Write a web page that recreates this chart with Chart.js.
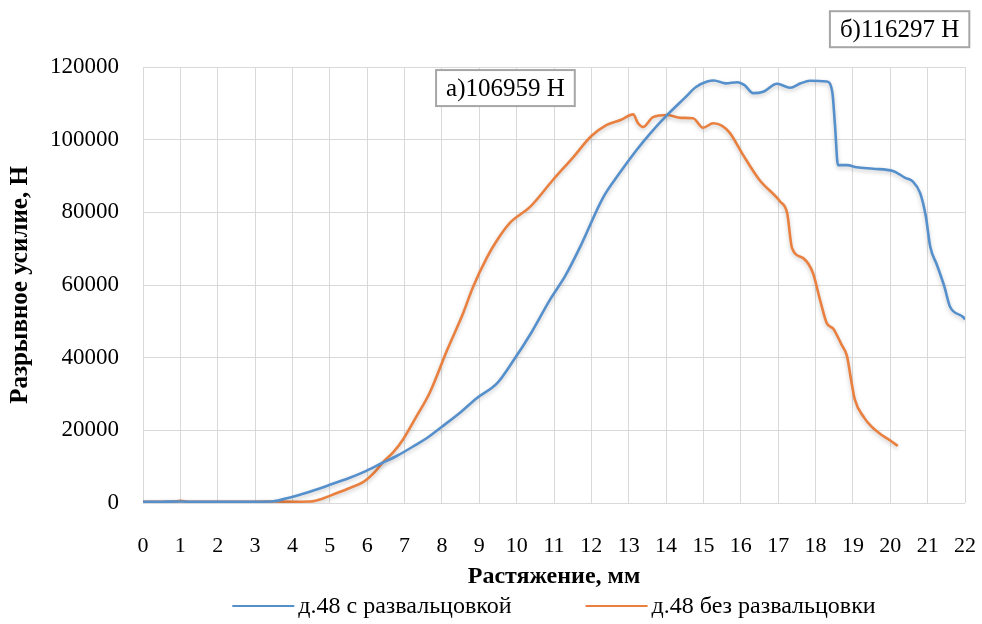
<!DOCTYPE html>
<html>
<head>
<meta charset="utf-8">
<script src="https://cdn.jsdelivr.net/npm/chart.js@4.4.0/dist/chart.umd.min.js"></script>
<style>
  html, body { margin: 0; padding: 0; background: #fff; }
  #wrap { width: 982px; height: 624px; position: relative; }
</style>
</head>
<body>
<div id="wrap"><canvas id="chart"></canvas></div>
<script>
// Растяжение, мм / Разрывное усилие, Н
const seriesNames = ['д.48 с развальцовкой', 'д.48 без развальцовки'];

const blueX = [0, 0.5, 1, 1.5, 2, 2.5, 3, 3.5, 3.85, 4.2, 4.6, 5.0, 5.5, 5.9, 6.4, 6.8, 7.3, 7.6, 8.0, 8.5,
  8.94, 9.48, 9.9, 10.4, 10.89, 11.3, 11.7, 12.31, 12.77, 13.2, 13.6, 14.03, 14.5, 14.8, 15.1, 15.28, 15.6,
  15.9, 16.1, 16.33, 16.6, 16.97, 17.32, 17.6, 17.85, 18.3, 18.45, 18.52, 18.6, 18.84, 19.1, 19.54, 20.07,
  20.4, 20.6, 20.8, 20.95, 21.07, 21.25, 21.45, 21.6, 21.95, 22];
const blueY = [300, 350, 400, 300, 300, 300, 350, 500, 1300, 2300, 3600, 5000, 6800, 8500, 11000, 13000, 16000,
  17900, 21000, 25000, 28900, 33000, 39000, 47000, 55900, 62500, 70500, 84000, 91000, 97000, 102000, 106800,
  111500, 114500, 116000, 116297, 115500, 115800, 115000, 112800, 113200, 115400, 114300, 115500, 116200,
  116000, 113000, 104000, 93000, 93000, 92400, 92000, 91400, 89500, 88500, 85300, 79000, 70500, 65500,
  59500, 54000, 51200, 50500];

const orangeX = [0, 0.8, 1.0, 1.2, 2, 3, 3.5, 4.0, 4.47, 4.8, 5.19, 5.5, 5.9, 6.2, 6.43, 6.7, 6.96, 7.3, 7.68,
  8.14, 8.57, 8.83, 9.21, 9.48, 9.82, 10.36, 10.97, 11.5, 12.0, 12.4, 12.8, 13.12, 13.25, 13.38, 13.65, 14.03,
  14.4, 14.72, 14.99, 15.26, 15.5, 15.71, 16.06, 16.5, 17.05, 17.24, 17.37, 17.67, 17.93, 18.12, 18.3, 18.47,
  18.7, 18.84, 18.95, 19.05, 19.3, 19.5, 19.8, 20.0, 20.2];
const orangeY = [300, 400, 600, 350, 300, 350, 400, 350, 400, 1200, 2750, 4000, 5800, 8500, 11300, 14000, 17500,
  23500, 30500, 42100, 52300, 59400, 67700, 72400, 77100, 81500, 88900, 95000, 101000, 104000, 105500, 106959,
  104500, 103500, 106200, 106800, 106000, 105900, 103300, 104500, 103800, 101800, 95800, 88900, 83000, 79800,
  70200, 67400, 63300, 55900, 49500, 48000, 43500, 40500, 34000, 28500, 23500, 21000, 18500, 17200, 15700];

const xTicks = [0, 22, 1];          // min, max, step
const yTicks = [0, 120000, 20000];  // min, max, step

const colors = ['#5590cc', '#e9803f'];
const serif = '"Liberation Serif", "Times New Roman", serif';

function toPoints(xs, ys) {
  return xs.map((x, i) => ({ x: x, y: ys[i] }));
}

// boxed peak labels
const peakLabels = [
  { text: 'а)' + Math.max(...orangeY) + ' Н', x: 9.70, y: 114200 },
  { text: 'б)' + Math.max(...blueY) + ' Н', x: 20.25, y: 130400 }
];

const peakLabelPlugin = {
  id: 'peakLabels',
  afterDraw(chart) {
    const ctx = chart.ctx;
    const sx = chart.scales.x, sy = chart.scales.y;
    ctx.save();
    ctx.font = '25px ' + serif;
    ctx.textAlign = 'center';
    ctx.textBaseline = 'middle';
    peakLabels.forEach(l => {
      const cx = sx.getPixelForValue(l.x);
      const cy = sy.getPixelForValue(l.y);
      const w = ctx.measureText(l.text).width + 20;
      const h = 36;
      ctx.fillStyle = '#fff';
      ctx.fillRect(cx - w / 2, cy - h / 2, w, h);
      ctx.strokeStyle = '#a6a6a6';
      ctx.lineWidth = 2;
      ctx.strokeRect(cx - w / 2, cy - h / 2, w, h);
      ctx.fillStyle = '#000';
      ctx.fillText(l.text, cx, cy + 1);
    });
    ctx.restore();
  }
};

// legend under the axis title
const bottomLegendPlugin = {
  id: 'bottomLegend',
  afterDraw(chart) {
    const ctx = chart.ctx;
    const area = chart.chartArea;
    const lineLen = 62, gap = 4, between = 74;
    ctx.save();
    ctx.font = '24px ' + serif;
    ctx.textBaseline = 'middle';
    const widths = chart.data.datasets.map(d => ctx.measureText(d.label).width);
    const total = widths.reduce((a, w) => a + lineLen + gap + w, 0) + between * (widths.length - 1);
    let x = (area.left + area.right) / 2 - total / 2;
    const y = 606;
    chart.data.datasets.forEach((d, i) => {
      ctx.strokeStyle = d.borderColor;
      ctx.lineWidth = 2;
      ctx.beginPath();
      ctx.moveTo(x, y);
      ctx.lineTo(x + lineLen, y);
      ctx.stroke();
      ctx.fillStyle = '#000';
      ctx.fillText(d.label, x + lineLen + gap, y + 1);
      x += lineLen + gap + widths[i] + between;
    });
    ctx.restore();
  }
};

// soft shadow under the curves
const lineShadowPlugin = {
  id: 'lineShadow',
  beforeDatasetsDraw(chart) {
    const ctx = chart.ctx;
    ctx.save();
    ctx.shadowColor = 'rgba(0,0,0,0.22)';
    ctx.shadowBlur = 4;
    ctx.shadowOffsetY = 2;
  },
  afterDatasetsDraw(chart) {
    chart.ctx.restore();
  }
};

const data = {
  datasets: [{
    label: seriesNames[0],
    data: toPoints(blueX, blueY),
    borderColor: colors[0],
    backgroundColor: colors[0]
  }, {
    label: seriesNames[1],
    data: toPoints(orangeX, orangeY),
    borderColor: colors[1],
    backgroundColor: colors[1]
  }]
};

const config = {
  type: 'scatter',
  data,
  options: {
    responsive: true,
    maintainAspectRatio: false,
    animation: false,
    showLine: true,
    elements: {
      point: { radius: 0, hoverRadius: 0 },
      line: { borderWidth: 2.6, cubicInterpolationMode: 'monotone' }
    },
    layout: { padding: { left: 0, right: 17, top: 67, bottom: 33 } },
    scales: {
      x: {
        type: 'linear',
        min: xTicks[0],
        max: xTicks[1],
        afterFit(scale) {
          scale.height = 88;
          scale.paddingLeft = 0;
          scale.paddingRight = 0;
        },
        ticks: {
          stepSize: xTicks[2],
          color: '#000',
          padding: 30,
          maxRotation: 0,
          autoSkip: false,
          font: { family: serif, size: 22 }
        },
        grid: { color: '#d9d9d9', lineWidth: 1, drawTicks: false },
        border: { display: false },
        title: {
          display: true,
          text: 'Растяжение, мм',
          color: '#000',
          padding: { top: 0, bottom: 0 },
          font: { family: serif, size: 24, weight: 'bold' }
        }
      },
      y: {
        min: yTicks[0],
        max: yTicks[1],
        afterFit(scale) { scale.width = 143; },
        ticks: {
          stepSize: yTicks[2],
          color: '#000',
          padding: 24,
          font: { family: serif, size: 23 },
          callback: v => String(v)
        },
        grid: { color: '#d9d9d9', lineWidth: 1, drawTicks: false },
        border: { display: false },
        title: {
          display: true,
          text: 'Разрывное усилие, Н',
          color: '#000',
          padding: { top: 6, bottom: 0 },
          font: { family: serif, size: 25, weight: 'bold' }
        }
      }
    },
    plugins: {
      legend: { display: false },
      tooltip: { enabled: false }
    }
  },
  plugins: [lineShadowPlugin, peakLabelPlugin, bottomLegendPlugin]
};

const myChart = new Chart(document.getElementById('chart'), config);
</script>
</body>
</html>
